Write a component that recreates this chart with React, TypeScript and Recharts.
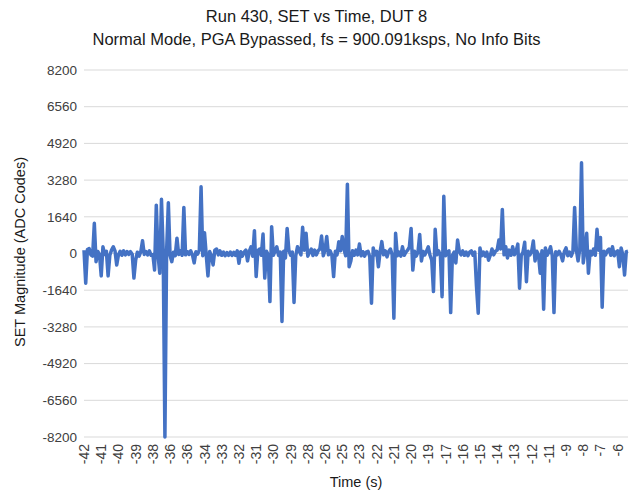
import { LineChart, Line, XAxis, YAxis, CartesianGrid } from "recharts";

// x tick labels, one every 10 samples (Excel shows the rounded time of that sample)
const timeLabels = [
  "-42", "-41", "-40", "-39", "-38", "-36", "-36", "-34", "-33", "-32", "-31",
  "-30", "-29", "-28", "-26", "-25", "-23", "-22", "-21", "-20", "-19", "-17",
  "-16", "-15", "-14", "-13", "-12", "-11", "-9", "-8", "-7", "-6",
];
const samplesPerLabel = 10;

const yTicks = [-8200, -6560, -4920, -3280, -1640, 0, 1640, 3280, 4920, 6560, 8200];

// SET magnitude per sample (ADC codes)
const setMagnitude = [
  150, -1330, 180, 220, -60, -120, 1350, -365, 90, -40,
  -1000, 300, -40, 100, -1000, -80, 150, 300, 120, -510,
  -60, 100, -80, 120, -60, 90, -40, 80, -30, -1100,
  -300, 60, -120, 80, 570, -40, 90, -60, 120, -80,
  -50, -740, 2160, -60, -880, 2420, 120, -8200, 150, 2270,
  -90, -365, 60, -100, 680, -40, 120, -80, 2060, -60,
  90, -40, 120, -60, -420, 80, -30, 150, 2980, -100,
  930, -60, -1000, 90, -120, -510, 150, 200, -60, 120,
  -80, 60, -100, 40, -80, 60, -90, 50, -80, 120,
  -440, 80, -120, 60, 150, -330, 100, 300, -120, 1020,
  -1030, 120, 200, -80, 870, -1100, 100, -60, -2150, 1200,
  -80, 120, 300, -90, 60, -3040, 100, -200, 1120, 150,
  -80, 60, -2190, -100, 300, 120, -60, 1170, 150, 900,
  -120, 60, 200, -90, 150, -60, 120, 200, 780, -100,
  150, 760, -60, 120, -80, -1030, 100, -60, 530, 120,
  760, 200, -100, 3100, -590, -330, 120, -80, 150, -60,
  420, -100, 80, -120, 60, 100, -150, -2220, 250, -60,
  100, -590, 80, 530, -60, 120, -150, 90, 200, -60,
  -2890, 900, -100, 60, -120, 300, -80, 60, 150, 290,
  1120, -740, 100, -120, 60, 850, -330, 90, -60, 120,
  300, -80, -300, -1700, 1080, -60, 120, -80, -1930, 2560,
  -100, 60, 120, -2640, -80, 60, -420, 600, 100, -60,
  120, -80, 60, -100, 60, 120, -80, 60, -1480, -2670,
  250, -100, 60, -120, 60, -300, -80, 200, -60, 100,
  150, 600, 200, 1970, -60, 300, -200, 150, -80, 300,
  -60, 100, 420, -1550, -80, 60, 500, -1260, 100, -60,
  80, 560, -330, 100, -60, -880, 120, -2490, 250, -80,
  60, 300, -100, -2640, 80, -60, 100, -60, -330, 80,
  250, -100, 60, -120, 80, 2060, 150, -330, 200, 4050,
  -420, 150, 900, -880, 100, -60, 200, -80, 1080, 150,
  720, -2400, 100, -60, 120, 200, -80, 300, -100, 60,
  120, -590, 250, -60, -960, 80, 100,
];

const data = setMagnitude.map((v, i) => ({ i, v }));

const font = "'Liberation Sans', Arial, sans-serif";

function TimeTick(props: any) {
  const { x, y, payload } = props;
  const label = timeLabels[Math.round(payload.value / samplesPerLabel)] ?? "";
  const ty = y - 1;
  return (
    <text
      x={x}
      y={ty}
      transform={`rotate(-90, ${x}, ${ty})`}
      textAnchor="end"
      dominantBaseline="central"
      fontSize={14}
      fontFamily={font}
      fill="#404040"
    >
      {label}
    </text>
  );
}

export default function App() {
  return (
    <div
      style={{
        position: "absolute",
        left: 0,
        top: 0,
        width: 633,
        height: 495,
        background: "#fff",
        fontFamily: font,
      }}
    >
      <div
        style={{
          position: "absolute",
          top: 5,
          left: 0,
          width: 633,
          textAlign: "center",
          fontSize: 16.5,
          lineHeight: "23px",
          color: "#1a1a1a",
        }}
      >
        Run 430, SET vs Time, DUT 8
        <br />
        Normal Mode, PGA Bypassed, fs = 900.091ksps, No Info Bits
      </div>
      <LineChart
        width={633}
        height={495}
        data={data}
        margin={{ top: 70, right: 5, bottom: 0, left: 0 }}
      >
        <CartesianGrid vertical={false} stroke="#d9d9d9" />
        <XAxis
          dataKey="i"
          type="category"
          interval={samplesPerLabel - 1}
          height={58}
          axisLine={false}
          tickLine={false}
          tick={<TimeTick />}
        />
        <YAxis
          width={84}
          domain={[-8200, 8200]}
          ticks={yTicks}
          axisLine={false}
          tickLine={false}
          tickMargin={1}
          tick={{ fontSize: 13.5, fill: "#404040", fontFamily: font }}
        />
        <Line
          type="linear"
          dataKey="v"
          stroke="#4472C4"
          strokeWidth={3.5}
          strokeLinejoin="round"
          dot={false}
          isAnimationActive={false}
        />
      </LineChart>
      <div
        style={{
          position: "absolute",
          left: 20,
          top: 252,
          transform: "translate(-50%, -50%) rotate(-90deg)",
          whiteSpace: "nowrap",
          fontSize: 14.5,
          color: "#1a1a1a",
        }}
      >
        SET Magnitude (ADC Codes)
      </div>
      <div
        style={{
          position: "absolute",
          left: 356,
          top: 482,
          transform: "translate(-50%, -50%)",
          whiteSpace: "nowrap",
          fontSize: 14.5,
          color: "#1a1a1a",
        }}
      >
        Time (s)
      </div>
    </div>
  );
}
